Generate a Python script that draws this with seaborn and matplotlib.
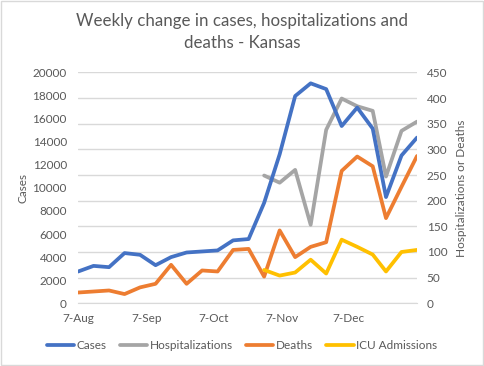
import numpy as np
import pandas as pd
import matplotlib.pyplot as plt
import seaborn as sns

sns.set_style("white")
plt.rcParams['font.family'] = ['Lato', 'DejaVu Sans']

# ------------------------------------------------------------------------
# Data (weekly values)
# ------------------------------------------------------------------------
week_dates = ["2020-08-07", "2020-08-14", "2020-08-21", "2020-08-28", "2020-09-04",
              "2020-09-11", "2020-09-18", "2020-09-25", "2020-10-02", "2020-10-09",
              "2020-10-16", "2020-10-23", "2020-10-30", "2020-11-06", "2020-11-13",
              "2020-11-20", "2020-11-27", "2020-12-04", "2020-12-11", "2020-12-18",
              "2020-12-24", "2020-12-31", "2021-01-07"]
cases = [2750, 3240, 3130, 4350, 4200, 3300, 4000, 4400, 4490, 4580, 5450, 5565,
         8700, 12900, 17950, 19050, 18550, 15350, 16950, 15130, 9200, 12800, 14350]
hospitalizations = [np.nan] * 12 + [249, 235, 260, 153, 338, 399, 384, 375, 247, 336, 354]
deaths = [21, 23, 25, 18, 31, 38, 75, 38, 64, 62, 104, 106,
          52, 142, 90, 110, 119, 258, 286, 267, 166, 227, 287]
icu_admissions = [np.nan] * 12 + [65, 54, 60, 85, 58, 124, 110, 95, 62, 100, 104]

tick_labels = ["7-Aug", "7-Sep", "7-Oct", "7-Nov", "7-Dec", ""]

df = pd.DataFrame({
    "date": pd.to_datetime(week_dates),
    "Cases": cases,
    "Hospitalizations": hospitalizations,
    "Deaths": deaths,
    "ICU Admissions": icu_admissions,
})

colors = {"Cases": "#4472C4", "Hospitalizations": "#A5A5A5",
          "Deaths": "#ED7D31", "ICU Admissions": "#FFC000"}
text_col = "#595959"
grid_col = "#D9D9D9"
fs = 8.5

# ------------------------------------------------------------------------
# Figure
# ------------------------------------------------------------------------
fig = plt.figure(figsize=(4.84, 3.66), dpi=100)
ax = fig.add_axes([0.1612, 0.1713, 0.7004, 0.631])
ax2 = ax.twinx()

lw = 2.7
sns.lineplot(data=df, x="date", y="Cases", ax=ax, color=colors["Cases"], lw=lw,
             label="Cases", legend=False)
for name in ["Hospitalizations", "Deaths", "ICU Admissions"]:
    sns.lineplot(data=df, x="date", y=name, ax=ax2, color=colors[name], lw=lw,
                 label=name, legend=False)
ax.set_zorder(ax2.get_zorder() + 1)
ax.patch.set_visible(False)
ax2.patch.set_visible(True)

ax.set_ylim(0, 20000)
ax.set_yticks(np.arange(0, 20001, 2000))
ax2.set_ylim(0, 450)
ax2.set_yticks(np.arange(0, 451, 50))

xticks = pd.to_datetime(["2020-08-07", "2020-09-07", "2020-10-07",
                         "2020-11-07", "2020-12-07", "2021-01-07"])
ax.set_xlim(xticks[0], xticks[-1])
ax.set_xticks(xticks)
ax.set_xticklabels(tick_labels)

ax2.grid(axis="y", color=grid_col, lw=1)
ax.grid(False)
for a in (ax, ax2):
    for s in a.spines.values():
        s.set_visible(False)
    a.tick_params(axis="y", length=0, colors=text_col, labelsize=fs)
ax.spines["bottom"].set_visible(True)
ax.spines["bottom"].set_color(grid_col)
ax.tick_params(axis="x", length=4, color=grid_col, colors=text_col, labelsize=fs, pad=3)
ax.tick_params(axis="y", pad=8)
ax2.tick_params(axis="y", pad=7)

ax.set_xlabel("")
ax.set_ylabel("Cases", color=text_col, fontsize=fs, labelpad=3)
ax2.set_ylabel("Hospitalizations or Deaths", color=text_col, fontsize=fs, labelpad=6)

fig.suptitle("Weekly change in cases, hospitalizations and\ndeaths - Kansas",
             x=0.5, y=0.965, fontsize=12.2, color=text_col, linespacing=1.45)

handles = ax.get_lines()[:1] + ax2.get_lines()[:3]
fig.legend(handles, [h.get_label() for h in handles], loc="center", ncol=4,
           bbox_to_anchor=(0.5, 0.057), frameon=False, fontsize=fs,
           handlelength=2.3, handletextpad=0.2, columnspacing=1.15,
           labelcolor=text_col)

fig.patches.append(plt.Rectangle((0.002, 0.003), 0.995, 0.993, transform=fig.transFigure,
                                 fill=False, edgecolor="#D9D9D9", lw=1))

fig.savefig("out.png", dpi=100)
plt.close()
